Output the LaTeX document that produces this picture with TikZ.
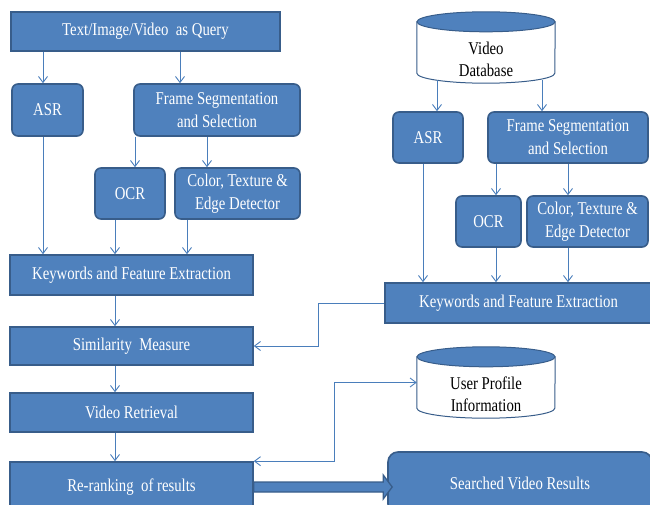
\documentclass[tikz,border=0pt]{standalone}
\usepackage{fontspec}
\setmainfont{Liberation Serif}[FakeStretch=0.82]
\usetikzlibrary{arrows.meta}
\usetikzlibrary{backgrounds}
\usetikzlibrary{calc}
\definecolor{boxblue}{RGB}{79,129,189}
\definecolor{boxline}{RGB}{56,93,138}
\definecolor{linkblue}{RGB}{74,126,187}
\tikzset{sbox/.style = {draw=boxline, line width=1.6pt, fill=boxblue, text=white, align=center, inner sep=0, font=\fontsize{18pt}{23pt}\selectfont}}
\tikzset{rbox/.style = {sbox, rounded corners=6pt}}
\tikzset{dbase/.style = {inner sep=0, minimum width=138pt, minimum height=71pt,
    label={[text=black, align=center, yshift=-12pt, font=\fontsize{18pt}{22pt}\selectfont]center:#1}}}
\tikzset{dbline/.style = {draw=boxline, line width=1pt}}
\tikzset{arr/.style = {draw=linkblue, line width=0.9pt, -{Straight Barb[length=6pt,width=9pt]}}}
\tikzset{fatarr/.style = {draw=boxline, line width=1.3pt, fill=boxblue}}

\begin{document}
\begin{tikzpicture}[x=1pt, y=-1pt]
  \useasboundingbox (0,0) rectangle (650,505);

  % query side
  \node [sbox, minimum width=269pt, minimum height=39pt] (query) at (145.5,31.5) {Text/Image/Video~ as Query};
  \node [rbox, minimum width=71pt, minimum height=52pt] (asrL) at (47.5,110) {ASR};
  \node [rbox, minimum width=166pt, minimum height=52pt] (fsL) at (217,110) {Frame Segmentation\\and Selection};
  \node [rbox, minimum width=70pt, minimum height=51pt] (ocrL) at (130,193.5) {OCR};
  \node [rbox, minimum width=125pt, minimum height=51pt] (cteL) at (237.5,193.5) {Color, Texture \&\\Edge Detector};
  \node [sbox, minimum width=243pt, minimum height=40pt] (kfeL) at (131.5,275) {Keywords and Feature Extraction};
  \node [sbox, minimum width=243pt, minimum height=38pt] (sim) at (131.5,346) {Similarity~ Measure};
  \node [sbox, minimum width=243pt, minimum height=39pt] (vr) at (131.5,412.5) {Video Retrieval};
  \node [sbox, minimum width=243pt, minimum height=50pt] (rr) at (131.5,487) {Re-ranking~ of results};

  \draw [arr] (query.south -| 43,0) -- (asrL.north -| 43,0);
  \draw [arr] (query.south -| 180,0) -- (fsL.north -| 180,0);
  \draw [arr] (asrL.south -| 43,0) -- (kfeL.north -| 43,0);
  \draw [arr] (fsL.south -| 135,0) -- (ocrL.north -| 135,0);
  \draw [arr] (fsL.south -| 207,0) -- (cteL.north -| 207,0);
  \draw [arr] (ocrL.south -| 115,0) -- (kfeL.north -| 115,0);
  \draw [arr] (cteL.south -| 187,0) -- (kfeL.north -| 187,0);
  \draw [arr] (kfeL.south -| 115,0) -- (sim.north -| 115,0);
  \draw [arr] (sim.south -| 115,0) -- (vr.north -| 115,0);
  \draw [arr] (vr.south -| 115,0) -- (rr.north -| 115,0);

  % database side
  \node [dbase={Video\\Database}] (vdb) at (486,47.5) {};
  \node [rbox, minimum width=70pt, minimum height=51pt] (asrR) at (428,137.5) {ASR};
  \node [rbox, minimum width=160pt, minimum height=51pt] (fsR) at (568,137.5) {Frame Segmentation\\and Selection};
  \node [rbox, minimum width=65pt, minimum height=51pt] (ocrR) at (488.5,221.5) {OCR};
  \node [rbox, minimum width=121pt, minimum height=51pt] (cteR) at (587.5,221.5) {Color, Texture \&\\Edge Detector};
  \node [sbox, minimum width=267pt, minimum height=40pt] (kfeR) at (518.5,303) {Keywords and Feature Extraction};

  \draw [arr] ([yshift=3pt]vdb.south -| 437,0) -- (asrR.north -| 437,0);
  \draw [arr] ([yshift=3pt]vdb.south -| 542,0) -- (fsR.north -| 542,0);
  \draw [arr] (asrR.south -| 423,0) -- (kfeR.north -| 423,0);
  \draw [arr] (fsR.south -| 496,0) -- (ocrR.north -| 496,0);
  \draw [arr] (fsR.south -| 568,0) -- (cteR.north -| 568,0);
  \draw [arr] (ocrR.south -| 496,0) -- (kfeR.north -| 496,0);
  \draw [arr] (cteR.south -| 568,0) -- (kfeR.north -| 568,0);
  \draw [arr] (kfeR.west) -- ++(-66,0) |- (sim.east);

  % user profile and output
  \node [dbase={User Profile\\Information}] (upi) at (486,382.5) {};
  \node [rbox, rounded corners=10pt, minimum width=264pt, minimum height=62pt] (svr) at (520,483) {Searched Video Results};

  % the two cylinders, under their texts
  \begin{scope}[on background layer]
    \foreach \db in {vdb, upi} {
      \draw [dbline, fill=white] ([yshift=-10pt]\db.north west) -- ([yshift=10pt]\db.south west)
        arc [start angle=180, end angle=360, x radius=69pt, y radius=10pt]
        -- ([yshift=-10pt]\db.north east) -- cycle;
      \draw [dbline, fill=boxblue] ([yshift=-10pt]\db.north) ellipse [x radius=69pt, y radius=10pt];
    }
  \end{scope}

  \draw [arr, {Straight Barb[length=6pt,width=9pt]}-{Straight Barb[length=6pt,width=9pt]}] (upi.west) -- ++(-82,0) |- (rr.north east);
  \draw [fatarr] let \p1 = (rr.east), \p2 = (svr.west) in
    (\x1,\y1+5pt) -- (\x2-4pt,\y1+5pt) -- (\x2-4pt,\y1+12pt) -- (\x2+5pt,\y1)
    -- (\x2-4pt,\y1-12pt) -- (\x2-4pt,\y1-5pt) -- (\x1,\y1-5pt) -- cycle;
\end{tikzpicture}
\end{document}
